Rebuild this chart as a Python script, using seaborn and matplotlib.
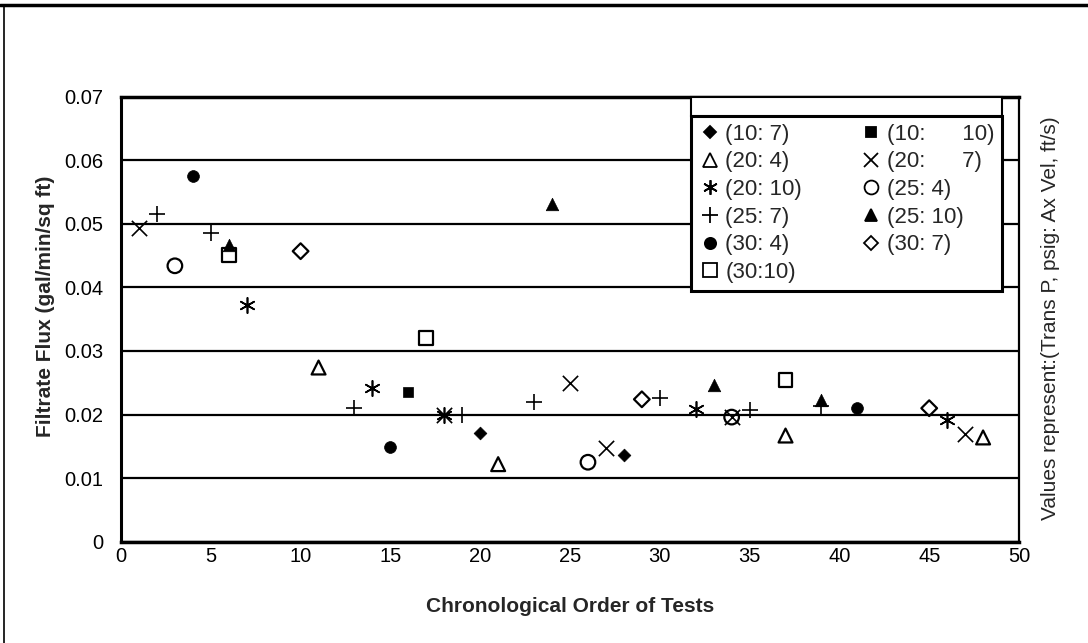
import matplotlib
matplotlib.use("Agg")
import matplotlib.pyplot as plt
import seaborn as sns
from matplotlib.lines import Line2D
from matplotlib.patches import Rectangle

# Filtrate flux per test, grouped by (Trans P psig : Ax Vel ft/s)
x_10_7 = [20, 28]
y_10_7 = [0.0171, 0.0137]

x_20_4 = [11, 21, 37, 48]
y_20_4 = [0.0274, 0.0122, 0.0167, 0.0164]

x_20_10 = [7, 14, 18, 32, 46]
y_20_10 = [0.0372, 0.0242, 0.0200, 0.0209, 0.0192]

x_25_7 = [2, 5, 13, 19, 23, 30, 35, 39]
y_25_7 = [0.0515, 0.0485, 0.0210, 0.0200, 0.0220, 0.0226, 0.0207, 0.0214]

x_30_4 = [4, 15, 41]
y_30_4 = [0.0575, 0.0149, 0.0210]

x_30_10 = [6, 17, 37]
y_30_10 = [0.0451, 0.0320, 0.0255]

x_10_10 = [16]
y_10_10 = [0.0235]

x_20_7 = [1, 18, 25, 27, 34, 47]
y_20_7 = [0.0494, 0.0200, 0.0250, 0.0148, 0.0196, 0.0170]

x_25_4 = [3, 26, 34]
y_25_4 = [0.0434, 0.0125, 0.0196]

x_25_10 = [6, 24, 33, 39]
y_25_10 = [0.0467, 0.0532, 0.0246, 0.0223]

x_30_7 = [10, 29, 45]
y_30_7 = [0.0457, 0.0224, 0.0210]

# legend order: left column first, then right column
series = [
    ("(10: 7)", x_10_7, y_10_7),
    ("(20: 4)", x_20_4, y_20_4),
    ("(20: 10)", x_20_10, y_20_10),
    ("(25: 7)", x_25_7, y_25_7),
    ("(30: 4)", x_30_4, y_30_4),
    ("(30:10)", x_30_10, y_30_10),
    ("(10:      10)", x_10_10, y_10_10),
    ("(20:      7)", x_20_7, y_20_7),
    ("(25: 4)", x_25_4, y_25_4),
    ("(25: 10)", x_25_10, y_25_10),
    ("(30: 7)", x_30_7, y_30_7),
]

x_ticks = [0, 5, 10, 15, 20, 25, 30, 35, 40, 45, 50]
y_ticks = [0, 0.01, 0.02, 0.03, 0.04, 0.05, 0.06, 0.07]
y_tick_labels = ["0", "0.01", "0.02", "0.03", "0.04", "0.05", "0.06", "0.07"]

# marker, filled, size (pt)
styles = [
    ("D", True, 6.5),
    ("^", False, 10),
    ((6, 2, 0), False, 11),
    ("+", False, 12),
    ("o", True, 8.5),
    ("s", False, 10),
    ("s", True, 7),
    ("x", False, 11),
    ("o", False, 10.5),
    ("^", True, 9),
    ("D", False, 8),
]

sns.set_style("white")
plt.rcParams["font.family"] = ["Liberation Sans", "DejaVu Sans"]

fig = plt.figure(figsize=(10.88, 6.43), dpi=100)
ax = fig.add_axes([121 / 1088, 1 - 541.7 / 643, 898 / 1088, 445 / 643])

handles = []
for (label, xs, ys), (mk, filled, size) in zip(series, styles):
    kw = dict(marker=mk, s=size ** 2, ax=ax, legend=False, zorder=3)
    if mk in ("x", "+") or isinstance(mk, tuple):
        sns.scatterplot(x=xs, y=ys, color="black", linewidth=1.2, **kw)
    elif filled:
        sns.scatterplot(x=xs, y=ys, color="black", edgecolor="black",
                        linewidth=0.5, **kw)
    else:
        sns.scatterplot(x=xs, y=ys, facecolors="none", edgecolor="black",
                        linewidth=1.6, **kw)
    handles.append(Line2D([], [], marker=mk, linestyle="none",
                          markersize=size * 0.95,
                          markerfacecolor="black" if filled else "none",
                          markeredgecolor="black", markeredgewidth=1.3))

ax.set_xlim(0, 50)
ax.set_ylim(0, 0.07)
ax.set_xticks(x_ticks)
ax.set_yticks(y_ticks)
ax.set_yticklabels(y_tick_labels)
ax.tick_params(axis="both", length=0, labelsize=14.5, colors="black")
ax.tick_params(axis="y", pad=13)
ax.tick_params(axis="x", pad=4)
ax.yaxis.grid(True, color="black", linewidth=1.6)
ax.xaxis.grid(False)
ax.set_axisbelow(True)
for side, lw in [("top", 2.5), ("bottom", 2.5), ("left", 2.2), ("right", 1.6)]:
    ax.spines[side].set_visible(True)
    ax.spines[side].set_color("black")
    ax.spines[side].set_linewidth(lw)

ax.set_xlabel("Chronological Order of Tests", fontsize=15, fontweight="bold")
ax.xaxis.set_label_coords(0.5, -0.125)
ax.set_ylabel("Filtrate Flux (gal/min/sq ft)", fontsize=15, fontweight="bold")
ax.yaxis.set_label_coords(-0.074, 0.53)

leg = ax.legend(handles, [s[0] for s in series], ncol=2, loc="upper right",
                bbox_to_anchor=(0.981, 0.957), borderaxespad=0, frameon=True,
                fancybox=False, framealpha=1, edgecolor="black", fontsize=16,
                handletextpad=0.2, columnspacing=2.6, labelspacing=0.3,
                handlelength=1.0, borderpad=0.35)
leg.get_frame().set_linewidth(2.2)
leg.set_zorder(5)

# empty header strip above the legend
fig.canvas.draw()
bb = leg.get_window_extent().transformed(ax.transAxes.inverted())
ax.add_patch(Rectangle((bb.x0, bb.y1), bb.width, 1 - bb.y1, transform=ax.transAxes,
                       facecolor="white", edgecolor="black", linewidth=1.5,
                       zorder=6, clip_on=False))

fig.text(1050 / 1088, 1 - 318 / 643, "Values represent:(Trans P, psig: Ax Vel, ft/s)",
         rotation=90, ha="center", va="center", fontsize=15)

# page frame lines
fig.add_artist(Line2D([0, 1], [1 - 5 / 643, 1 - 5 / 643], color="black", linewidth=2.5))
fig.add_artist(Line2D([4 / 1088, 4 / 1088], [0, 1 - 5 / 643], color="black", linewidth=1.2))

fig.savefig("out.png", dpi=100)
